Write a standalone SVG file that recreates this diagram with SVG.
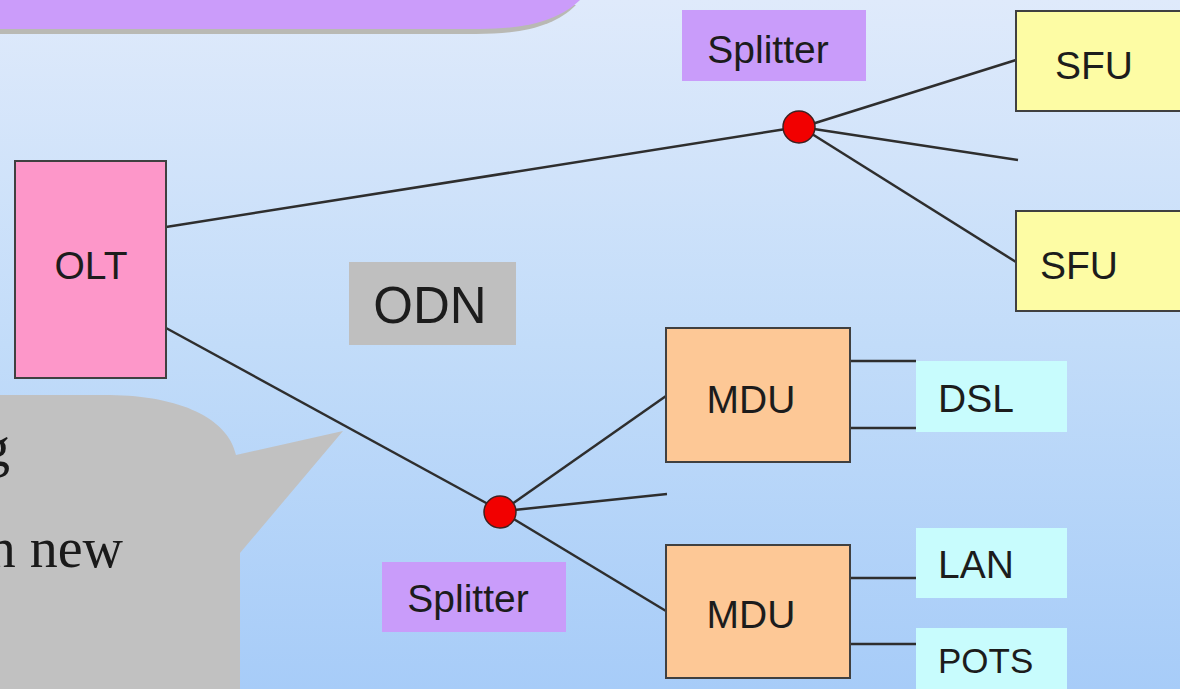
<svg xmlns="http://www.w3.org/2000/svg" width="1180" height="689" viewBox="0 0 1180 689">
  <defs>
    <linearGradient id="bg" x1="0" y1="0" x2="0" y2="1">
      <stop offset="0" stop-color="#dfeafb"/>
      <stop offset="0.5" stop-color="#c2dcf9"/>
      <stop offset="1" stop-color="#a7ccf8"/>
    </linearGradient>
  </defs>
  <style>
    .box { stroke: #404040; stroke-width: 2; }
    .olt { fill: #fd97c9; }
    .sfu { fill: #fdfca4; }
    .mdu { fill: #fdc896; }
    .tag { fill: #c99cfa; }
    .svc { fill: #c8fcfd; }
    .odn { fill: #bfbfbf; }
    .dot { fill: #f20000; stroke: #402020; stroke-width: 1.5; }
    .wire { stroke: #2e2e2e; stroke-width: 2.5; fill: none; }
    .lbl { font-family: "Liberation Sans", Arial, sans-serif; font-size: 39px; fill: #1c1c1c; }
    .note { font-family: "Liberation Serif", "Times New Roman", serif; font-size: 56px; fill: #1a1a1a; }
  </style>

  <!-- background -->
  <rect x="0" y="0" width="1180" height="689" fill="url(#bg)"/>

  <!-- callout banner at the top, with its shadow -->
  <g id="banner">
    <path d="M0,5 H576 C556,25 526,34 476,34 H0 Z" fill="#b9b9b4"/>
    <path d="M0,0 H580 C560,19 530,29 480,29 H0 Z" fill="#cb9cfa"/>
  </g>

  <!-- speech bubble with note text -->
  <g id="note">
    <path d="M0,395 H110 C180,396 228,418 236,455 L343,431 L240,553 V689 H0 Z" fill="#c1c1c1"/>
    <text class="note" x="10" y="466" text-anchor="end">g</text>
    <text class="note" x="123" y="567" text-anchor="end">n new</text>
  </g>

  <!-- connectors -->
  <g id="connectors">
    <line class="wire" x1="166" y1="227" x2="786" y2="129"/>
    <line class="wire" x1="812" y1="124" x2="1016" y2="60"/>
    <line class="wire" x1="814" y1="129" x2="1018" y2="160"/>
    <line class="wire" x1="812" y1="134" x2="1016" y2="262"/>
    <line class="wire" x1="166" y1="328" x2="488" y2="504"/>
    <line class="wire" x1="512" y1="504" x2="666" y2="396"/>
    <line class="wire" x1="514" y1="510" x2="667" y2="494"/>
    <line class="wire" x1="512" y1="518" x2="666" y2="611"/>
    <line class="wire" x1="850" y1="361" x2="916" y2="361"/>
    <line class="wire" x1="850" y1="428" x2="916" y2="428"/>
    <line class="wire" x1="850" y1="578" x2="916" y2="578"/>
    <line class="wire" x1="850" y1="644" x2="916" y2="644"/>
  </g>

  <g id="olt">
    <rect class="box olt" x="15" y="161" width="151" height="217"/>
    <text class="lbl" x="91" y="279" text-anchor="middle">OLT</text>
  </g>

  <g id="odn">
    <rect class="odn" x="349" y="262" width="167" height="83"/>
    <text class="lbl" x="430" y="323" text-anchor="middle" style="font-size:51px">ODN</text>
  </g>

  <g id="splitter-top">
    <rect class="tag" x="682" y="10" width="184" height="71"/>
    <text class="lbl" x="768" y="63" text-anchor="middle">Splitter</text>
    <circle class="dot" cx="799" cy="127" r="16"/>
  </g>

  <g id="splitter-bottom">
    <rect class="tag" x="382" y="562" width="184" height="70"/>
    <text class="lbl" x="468" y="612" text-anchor="middle">Splitter</text>
    <circle class="dot" cx="500" cy="512" r="16"/>
  </g>

  <g id="sfu-1">
    <rect class="box sfu" x="1016" y="11" width="180" height="100"/>
    <text class="lbl" x="1055" y="79">SFU</text>
  </g>

  <g id="sfu-2">
    <rect class="box sfu" x="1016" y="211" width="180" height="100"/>
    <text class="lbl" x="1040" y="279">SFU</text>
  </g>

  <g id="mdu-1">
    <rect class="box mdu" x="666" y="328" width="184" height="134"/>
    <text class="lbl" x="751" y="413" text-anchor="middle">MDU</text>
  </g>

  <g id="mdu-2">
    <rect class="box mdu" x="666" y="545" width="184" height="133"/>
    <text class="lbl" x="751" y="628" text-anchor="middle">MDU</text>
  </g>

  <g id="dsl">
    <rect class="svc" x="916" y="361" width="151" height="71"/>
    <text class="lbl" x="938" y="412">DSL</text>
  </g>

  <g id="lan">
    <rect class="svc" x="916" y="528" width="151" height="70"/>
    <text class="lbl" x="938" y="578">LAN</text>
  </g>

  <g id="pots">
    <rect class="svc" x="916" y="628" width="151" height="70"/>
    <text class="lbl" x="938" y="673" style="font-size:35px">POTS</text>
  </g>
</svg>
